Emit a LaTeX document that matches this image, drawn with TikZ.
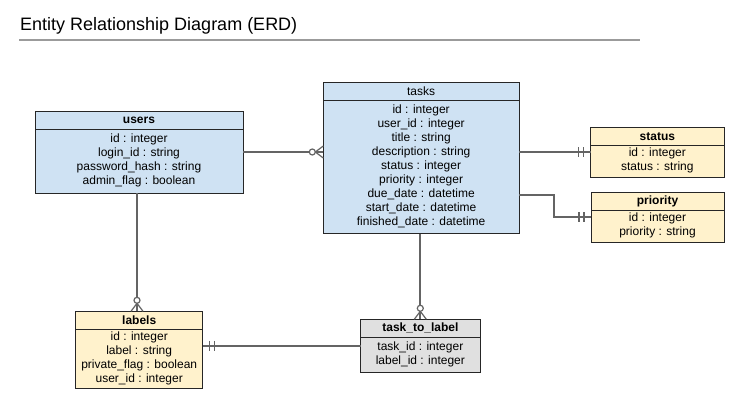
\documentclass[tikz,border=0pt]{standalone}
\usepackage{fontspec}
\setmainfont{Liberation Sans}
\usetikzlibrary{positioning}

\definecolor{entblue}{RGB}{207,226,243}
\definecolor{entyellow}{RGB}{255,242,204}
\definecolor{entgray}{RGB}{224,224,224}
\definecolor{connline}{RGB}{100,100,100}
\definecolor{ruleline}{RGB}{155,155,155}

\tikzset{
	head/.style={draw=black!85,line width=0.8pt,minimum height=18pt,inner sep=0pt,outer sep=0pt,font=\fontsize{12}{14}\selectfont\bfseries},
	body/.style={draw=black!85,line width=0.8pt,inner sep=0pt,outer sep=0pt,text depth=4pt,align=center,font=\fontsize{12}{14}\selectfont},
	conn/.style={draw=connline,line width=1.8pt},
	endmark/.style={draw=connline,line width=1.2pt},
	zeromany/.pic={
		\foreach \y in {-6,0,6}{
			\draw[endmark] (-8,0) -- (0,\y);
		}
		\draw[endmark,fill=white] (-11,0) circle (3pt);
	},
	onlyone/.pic={
		\foreach \x in {-7,-12}{
			\draw[endmark] (\x,-5) -- (\x,5);
		}
	}
}

\begin{document}
\begin{tikzpicture}[x=1pt,y=1pt]
		\fill[white] (0,0) rectangle (745,-411);
		%title and rule
		\node[anchor=base west,inner sep=0pt,font=\fontsize{18}{22}\selectfont] (title) at (20,-30.7) {Entity Relationship Diagram (ERD)};
		\draw[ruleline,line width=1.8pt] (19,-40) -- (640,-40);
		%users
		\node[head,fill=entblue,minimum width=208pt,anchor=north west] (usersh) at (35,-111.5) {users};
		\node[body,fill=entblue,minimum width=208pt,minimum height=63.5pt,below=0pt of usersh] (usersb) {id : integer\\login\_id : string\\password\_hash : string\\admin\_flag : boolean};
		%tasks
		\node[head,fill=entblue,font=\fontsize{12}{14}\selectfont,minimum width=195.7pt,anchor=north west] (tasksh) at (323.3,-82.3) {tasks};
		\node[body,fill=entblue,minimum width=195.7pt,minimum height=133.3pt,below=0pt of tasksh] (tasksb) {id : integer\\user\_id : integer\\title : string\\description : string\\status : integer\\priority : integer\\due\_date : datetime\\start\_date : datetime\\finished\_date : datetime};
		%status
		\node[head,fill=entyellow,minimum width=133.3pt,anchor=north west] (statush) at (590.7,-127.3) {status};
		\node[body,fill=entyellow,minimum width=133.3pt,minimum height=32.3pt,below=0pt of statush] (statusb) {id : integer\\status : string};
		%priority
		\node[head,fill=entyellow,minimum width=133pt,anchor=north west] (priorityh) at (591,-192.3) {priority};
		\node[body,fill=entyellow,minimum width=133pt,minimum height=32pt,below=0pt of priorityh] (priorityb) {id : integer\\priority : string};
		%labels
		\node[head,fill=entyellow,minimum width=127pt,anchor=north west] (labelsh) at (75.7,-311.3) {labels};
		\node[body,fill=entyellow,minimum width=127pt,minimum height=59pt,below=0pt of labelsh] (labelsb) {id : integer\\label : string\\private\_flag : boolean\\user\_id : integer};
		%task_to_label
		\node[head,fill=entgray,minimum width=119.3pt,anchor=north west] (t2lh) at (360.7,-319.3) {task\_to\_label};
		\node[body,fill=entgray,minimum width=119.3pt,minimum height=35pt,below=0pt of t2lh] (t2lb) {task\_id : integer\\label\_id : integer};
		%connectors
		\coordinate (ut) at (0,-152);
		\coordinate (tp) at (554,-194.7);
		\coordinate (pp) at (0,-217);
		\coordinate (lt) at (0,-346);
		\coordinate (ul) at (137,0);
		\coordinate (tl) at (420.3,0);
		\draw[conn] (usersb.east |- ut) -- (tasksb.west |- ut);
		\draw[conn] (tasksb.east |- ut) -- (statusb.west |- ut);
		\draw[conn] (tasksb.east |- tp) -- (tp) |- (priorityb.west |- pp);
		\draw[conn] (ul |- usersb.south) -- (ul |- labelsh.north);
		\draw[conn] (tl |- tasksb.south) -- (tl |- t2lh.north);
		\draw[conn] (t2lb.west |- lt) -- (labelsb.east |- lt);
		%ends
		\pic at (tasksb.west |- ut) {zeromany};
		\pic[rotate=-90] at (ul |- labelsh.north) {zeromany};
		\pic[rotate=-90] at (tl |- t2lh.north) {zeromany};
		\pic at (statusb.west |- ut) {onlyone};
		\pic at (priorityb.west |- pp) {onlyone};
		\pic[rotate=180] at (labelsb.east |- lt) {onlyone};
\end{tikzpicture}
\end{document}
